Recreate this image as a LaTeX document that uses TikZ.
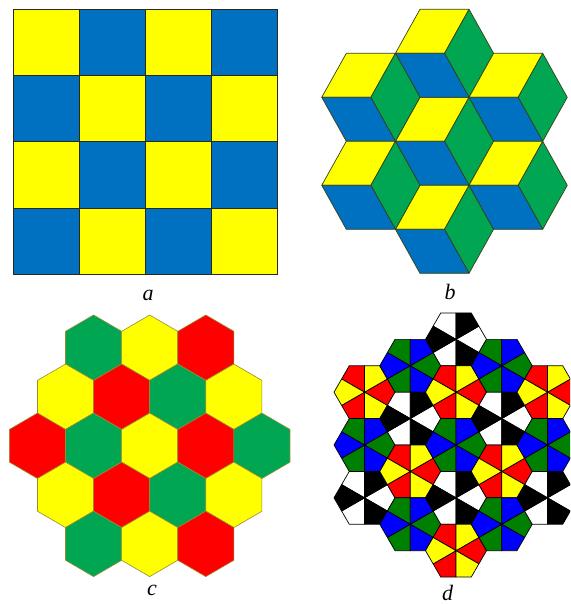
\documentclass[tikz,border=0pt]{standalone}
\usepackage{fontspec}
\setmainfont{Liberation Serif}
\definecolor{ayellow}{RGB}{255,255,0}
\definecolor{ablue}{RGB}{0,112,192}
\definecolor{bgreen}{RGB}{0,166,81}
\definecolor{cgreen}{RGB}{0,166,81}
\definecolor{cred}{RGB}{255,0,0}
\definecolor{dred}{RGB}{255,0,0}
\definecolor{dgreen}{RGB}{0,128,0}
\definecolor{dblue}{RGB}{0,0,255}
\definecolor{aedge}{RGB}{40,40,30}
\definecolor{bedge}{RGB}{55,65,20}
\definecolor{cedge}{RGB}{150,140,50}
\newcommand\kitehex[3]{%
  \begin{scope}[shift={#1}]
    \foreach \a in {0,120,240}
      \filldraw[dline,fill=#2] (0,0) -- (\a-30:0.866) -- (\a:1) -- (\a+30:0.866) -- cycle;
    \foreach \a in {60,180,300}
      \filldraw[dline,fill=#3] (0,0) -- (\a-30:0.866) -- (\a:1) -- (\a+30:0.866) -- cycle;
  \end{scope}}
\begin{document}
\begin{tikzpicture}[x=1pt,y=-1pt,
  aline/.style={draw=aedge,line width=0.8pt,line join=round},
  bline/.style={draw=bedge,line width=0.7pt,line join=round},
  cline/.style={draw=cedge,line width=0.6pt,line join=round},
  dline/.style={draw=black,line width=0.7pt,line join=round},
  lab/.style={font=\fontsize{22}{26}\selectfont\itshape,anchor=base,inner sep=0pt}]
\fill[white] (0,0) rectangle (570,604);
\useasboundingbox (0,0) rectangle (570,604);
\clip (0,0) rectangle (570,604);
% ---------- panel a ----------
\foreach \i in {0,...,3}
  \foreach \j in {0,...,3}{
    \pgfmathtruncatemacro\p{\i+\j}
    \ifodd\p \def\col{ablue}\else\def\col{ayellow}\fi
    \filldraw[aline,fill=\col] (13.3+66.1*\i,9.3+66.25*\j) rectangle +(66.1,66.25);
  }
\draw[aline] (13.3,9.3) rectangle (277.7,274.3);
\node[lab] (la) at (148,300) {a};
% ---------- panel b ----------
\begin{scope}[shift={(444.5pt,-141.3pt)},x=49.1pt,y=50.8pt]
  \foreach \cx/\cy in {0/0,0/1.732,0/-1.732,1.5/0.866,1.5/-0.866,-1.5/0.866,-1.5/-0.866}{
    \begin{scope}[shift={(\cx,\cy)}]
      \filldraw[bline,fill=ayellow] (0,0) -- (60:1) -- (120:1) -- (180:1) -- cycle;
      \filldraw[bline,fill=bgreen] (0,0) -- (-60:1) -- (0:1) -- (60:1) -- cycle;
      \filldraw[bline,fill=ablue] (0,0) -- (180:1) -- (240:1) -- (300:1) -- cycle;
    \end{scope}
  }
\end{scope}
\node[lab] (lb) at (450,299.5) {b};
% ---------- panel c ----------
\begin{scope}[shift={(149.7pt,-445.8pt)},x=32.4pt,y=32.7pt]
  \foreach \hx/\hy/\hc in {
    -1.732/3/cgreen, 0/3/ayellow, 1.732/3/cred,
    -2.598/1.5/ayellow, -0.866/1.5/cred, 0.866/1.5/cgreen, 2.598/1.5/ayellow,
    -3.464/0/cred, -1.732/0/cgreen, 0/0/ayellow, 1.732/0/cred, 3.464/0/cgreen,
    -2.598/-1.5/ayellow, -0.866/-1.5/cred, 0.866/-1.5/cgreen, 2.598/-1.5/ayellow,
    -1.732/-3/cgreen, 0/-3/ayellow, 1.732/-3/cred}{
    \filldraw[cline,fill=\hc,shift={(\hx,\hy)}]
      (30:1) -- (90:1) -- (150:1) -- (210:1) -- (270:1) -- (330:1) -- cycle;
  }
\end{scope}
\node[lab] (lc) at (152,595.5) {c};
% ---------- panel d ----------
\begin{scope}[shift={(456pt,-445pt)},x=30.5pt,y=30.5pt]
  \foreach \hx/\hy/\ca/\cb in {
    -3/1.732/dred/ayellow, -3/0/dgreen/dblue, -3/-1.732/white/black,
    -1.5/2.598/dgreen/dblue, -1.5/0.866/white/black, -1.5/-0.866/dred/ayellow, -1.5/-2.598/dgreen/dblue,
    0/3.464/white/black, 0/1.732/dred/ayellow, 0/0/dgreen/dblue, 0/-1.732/white/black, 0/-3.464/dred/ayellow,
    1.5/2.598/dgreen/dblue, 1.5/0.866/white/black, 1.5/-0.866/dred/ayellow, 1.5/-2.598/dgreen/dblue,
    3/1.732/dred/ayellow, 3/0/dgreen/dblue, 3/-1.732/white/black}{
    \kitehex{(\hx,\hy)}{\ca}{\cb}
  }
\end{scope}
\node[lab] (ld) at (447.5,600) {d};
\end{tikzpicture}
\end{document}
